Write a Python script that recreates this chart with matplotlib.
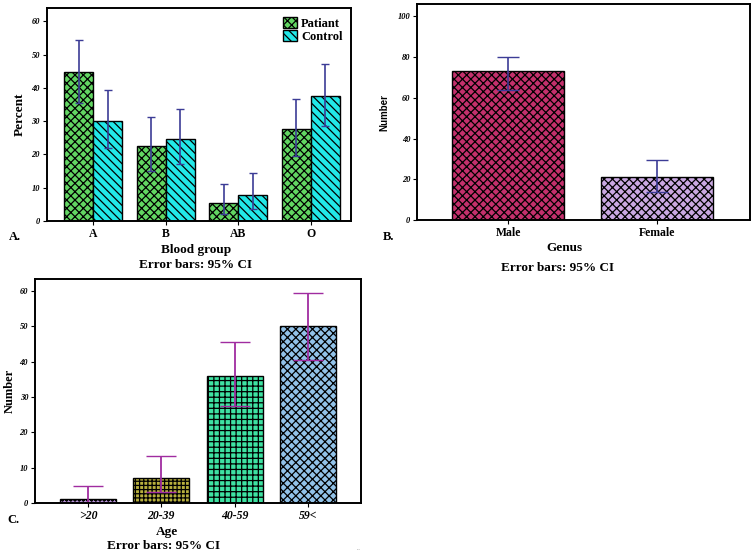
"""
blood group / genus / age panels with 95% CI error bars
"""
import numpy as np
import matplotlib
matplotlib.use('Agg')
import matplotlib.pyplot as plt

# panel A - blood group
blood_groups = ['A', 'B', 'AB', 'O']
patient_pct = [44.7, 22.4, 5.3, 27.6]
patient_lo = [35.3, 15.0, 2.0, 19.5]
patient_hi = [54.4, 31.2, 11.0, 36.8]
control_pct = [30.0, 24.7, 7.8, 37.5]
control_lo = [21.8, 17.0, 3.6, 28.5]
control_hi = [39.4, 33.7, 14.3, 47.2]

# panel B - genus
genus = ['Male', 'Female']
genus_n = [73, 21]
genus_lo = [64, 14]
genus_hi = [80, 29.5]

# panel C - age
age_groups = ['>20', '20-39', '40-59', '59<']
age_n = [1, 7, 36, 50]
age_lo = [0, 3.2, 27.3, 40.5]
age_hi = [4.7, 13.2, 45.5, 59.3]

plt.rcParams['font.family'] = ['Liberation Serif', 'DejaVu Serif']
plt.rcParams['hatch.linewidth'] = 0.9
plt.rcParams['axes.linewidth'] = 1.4

fig = plt.figure(figsize=(7.53, 5.52), dpi=100)


def err(vals, lo, hi):
    vals = np.array(vals, dtype=float)
    return [vals - np.array(lo), np.array(hi) - vals]


def style_axes(ax):
    ax.tick_params(axis='y', labelsize=6, length=3, width=0.8, pad=2)
    ax.tick_params(axis='x', labelsize=8.5, length=3, width=0.8, pad=2)
    for t in ax.get_yticklabels():
        t.set_fontstyle('italic')
        t.set_fontweight('bold')
    for t in ax.get_xticklabels():
        t.set_fontweight('bold')


def label(x, y, s):
    fig.text(x, y, s, fontsize=9.5, fontweight='bold', ha='center', va='center')


# ---- A ----
axA = fig.add_axes([0.0624, 0.5996, 0.404, 0.386])
x = np.arange(len(blood_groups))
w = 0.4
axA.bar(x - w / 2, patient_pct, w, color='#62d662', edgecolor='black',
        linewidth=1.0, hatch='xxxx', label='Patiant')
axA.bar(x + w / 2, control_pct, w, color='#22e8e8', edgecolor='black',
        linewidth=1.0, hatch='\\\\\\\\', label='Control')
axA.errorbar(x - w / 2, patient_pct, yerr=err(patient_pct, patient_lo, patient_hi),
             fmt='none', ecolor='#3c3c96', elinewidth=1.2, capsize=3)
axA.errorbar(x + w / 2, control_pct, yerr=err(control_pct, control_lo, control_hi),
             fmt='none', ecolor='#3c3c96', elinewidth=1.2, capsize=3)
axA.set_xlim(-0.64, 3.56)
axA.set_ylim(0, 64)
axA.set_yticks([0, 10, 20, 30, 40, 50, 60])
axA.set_xticks(x)
axA.set_xticklabels(blood_groups)
axA.set_ylabel('Percent', fontsize=9.5, fontweight='bold', labelpad=4)
style_axes(axA)
axA.legend(loc='upper right', frameon=False, handlelength=1.1,
           handleheight=1.0, handletextpad=0.3, labelspacing=0.05,
           borderaxespad=0.3, prop={'weight': 'bold', 'size': 9})

fig.text(0.012, 0.5707, 'A.', fontsize=9, fontweight='bold', va='center')
label(0.260, 0.547, 'Blood group')
label(0.260, 0.520, 'Error bars: 95% CI')

# ---- B ----
axB = fig.add_axes([0.554, 0.6014, 0.442, 0.391])
xb = np.arange(len(genus))
axB.bar(xb, genus_n, 0.75, color=['#c4306c', '#caa8e2'], edgecolor='black',
        linewidth=1.0, hatch='xxxx')
axB.errorbar(xb, genus_n, yerr=err(genus_n, genus_lo, genus_hi), fmt='none',
             ecolor='#3c3c96', elinewidth=1.2, capsize=8)
axB.set_xlim(-0.61, 1.62)
axB.set_ylim(0, 106)
axB.set_yticks([0, 20, 40, 60, 80, 100])
axB.set_xticks(xb)
axB.set_xticklabels(genus)
axB.set_ylabel('Number', fontsize=7, fontweight='bold', family='Liberation Sans',
               labelpad=6)
style_axes(axB)

fig.text(0.508, 0.5707, 'B.', fontsize=9, fontweight='bold', va='center')
label(0.750, 0.551, 'Genus')
label(0.741, 0.5145, 'Error bars: 95% CI')

# ---- C ----
axC = fig.add_axes([0.0465, 0.0888, 0.433, 0.406])
xc = np.arange(len(age_groups))
c_colors = ['#b894d8', '#b8b03e', '#3ee2a2', '#92c2e8']
c_hatch = ['oooo', '++++', '+++', 'xxxx']
for i in range(len(age_groups)):
    axC.bar(xc[i], age_n[i], 0.76, color=c_colors[i], edgecolor='black',
            linewidth=1.0, hatch=c_hatch[i])
axC.errorbar(xc, age_n, yerr=err(age_n, age_lo, age_hi), fmt='none',
             ecolor='#a02ca0', elinewidth=1.3, capsize=11)
axC.set_xlim(-0.72, 3.72)
axC.set_ylim(0, 63.4)
axC.set_yticks([0, 10, 20, 30, 40, 50, 60])
axC.set_xticks(xc)
axC.set_xticklabels(age_groups)
axC.set_ylabel('Number', fontsize=9, fontweight='bold', labelpad=3)
style_axes(axC)
for t in axC.get_xticklabels():
    t.set_fontstyle('italic')

fig.text(0.010, 0.058, 'C.', fontsize=9, fontweight='bold', va='center')
label(0.222, 0.0362, 'Age')
label(0.217, 0.0109, 'Error bars: 95% CI')
fig.text(0.474, 0.003, '...', fontsize=4, color='#999999')

fig.savefig('out.png', dpi=100)
